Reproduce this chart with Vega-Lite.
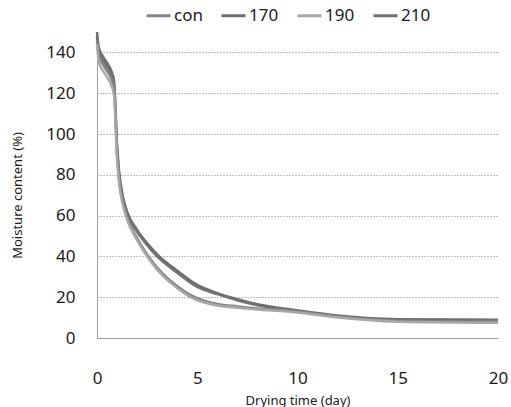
{
  "$schema": "https://vega.github.io/schema/vega-lite/v6.json",
  "autosize": {"type": "none"},
  "padding": {"left": 97, "top": 32, "right": 13, "bottom": 69},
  "width": 401,
  "height": 306,
  "background": "white",
  "config": {"view": {"stroke": null}, "font": "Noto Sans"},
  "data": {"values": [
    {"s":"170","t":0,"v":150},{"s":"170","t":0.1,"v":142},{"s":"170","t":0.3,"v":138},{"s":"170","t":0.55,"v":134},{"s":"170","t":0.75,"v":130},{"s":"170","t":0.85,"v":126},{"s":"170","t":1.0,"v":95},{"s":"170","t":1.1,"v":82},{"s":"170","t":1.3,"v":69},{"s":"170","t":1.5,"v":62},{"s":"170","t":2,"v":53},{"s":"170","t":2.5,"v":46.5},{"s":"170","t":3,"v":41},{"s":"170","t":4,"v":33},{"s":"170","t":5,"v":26},{"s":"170","t":6,"v":22},{"s":"170","t":7,"v":19},{"s":"170","t":8,"v":16.5},{"s":"170","t":10,"v":13.5},{"s":"170","t":12,"v":11},{"s":"170","t":15,"v":9.2},{"s":"170","t":20,"v":9},
    {"s":"210","t":0,"v":148},{"s":"210","t":0.1,"v":140},{"s":"210","t":0.3,"v":136},{"s":"210","t":0.55,"v":132},{"s":"210","t":0.75,"v":128},{"s":"210","t":0.85,"v":124},{"s":"210","t":1.0,"v":93},{"s":"210","t":1.1,"v":80},{"s":"210","t":1.3,"v":68},{"s":"210","t":1.5,"v":61},{"s":"210","t":2,"v":52},{"s":"210","t":2.5,"v":45.5},{"s":"210","t":3,"v":40},{"s":"210","t":4,"v":32},{"s":"210","t":5,"v":25},{"s":"210","t":6,"v":21.5},{"s":"210","t":7,"v":18.5},{"s":"210","t":8,"v":16},{"s":"210","t":10,"v":13},{"s":"210","t":12,"v":10.5},{"s":"210","t":15,"v":8.7},{"s":"210","t":20,"v":8.5},
    {"s":"con","t":0,"v":146},{"s":"con","t":0.1,"v":138},{"s":"con","t":0.3,"v":134},{"s":"con","t":0.55,"v":130},{"s":"con","t":0.75,"v":126},{"s":"con","t":0.85,"v":122},{"s":"con","t":1.0,"v":90},{"s":"con","t":1.1,"v":78},{"s":"con","t":1.3,"v":66},{"s":"con","t":1.5,"v":59},{"s":"con","t":2,"v":49},{"s":"con","t":2.5,"v":41},{"s":"con","t":3,"v":34.5},{"s":"con","t":3.5,"v":29.5},{"s":"con","t":4,"v":25.5},{"s":"con","t":4.5,"v":22},{"s":"con","t":5,"v":19.5},{"s":"con","t":5.5,"v":17.8},{"s":"con","t":6,"v":16.7},{"s":"con","t":7,"v":15.5},{"s":"con","t":8,"v":14.5},{"s":"con","t":10,"v":13},{"s":"con","t":12,"v":10.5},{"s":"con","t":15,"v":8.5},{"s":"con","t":20,"v":8},
    {"s":"190","t":0,"v":144},{"s":"190","t":0.1,"v":135},{"s":"190","t":0.3,"v":131},{"s":"190","t":0.55,"v":127},{"s":"190","t":0.75,"v":123},{"s":"190","t":0.85,"v":119},{"s":"190","t":1.0,"v":88},{"s":"190","t":1.1,"v":76},{"s":"190","t":1.3,"v":65},{"s":"190","t":1.5,"v":58},{"s":"190","t":2,"v":48},{"s":"190","t":2.5,"v":40},{"s":"190","t":3,"v":33.5},{"s":"190","t":3.5,"v":28.5},{"s":"190","t":4,"v":24.5},{"s":"190","t":4.5,"v":21},{"s":"190","t":5,"v":18.5},{"s":"190","t":5.5,"v":17},{"s":"190","t":6,"v":15.9},{"s":"190","t":7,"v":14.8},{"s":"190","t":8,"v":14},{"s":"190","t":10,"v":12.5},{"s":"190","t":12,"v":10},{"s":"190","t":15,"v":8},{"s":"190","t":20,"v":7.5}
  ]},
  "mark": {"type": "line", "interpolate": "monotone", "strokeWidth": 2.5, "clip": false},
  "encoding": {
    "x": {"field": "t", "type": "quantitative",
      "scale": {"domain": [0, 20], "nice": false, "zero": true},
      "axis": {"values": [0, 5, 10, 15, 20], "grid": false, "ticks": false, "domainColor": "#a0a0a0", "domainWidth": 1,
        "labelFontSize": 17, "labelColor": "#1a1a1a", "labelPadding": 32, "labelFlush": false, "labelOverlap": false,
        "title": "Drying time (day)", "titleFontSize": 13, "titleFontWeight": "normal", "titleColor": "#1a1a1a",
        "titleY": 56, "titleBaseline": "top"}},
    "y": {"field": "v", "type": "quantitative",
      "scale": {"domain": [0, 150], "nice": false},
      "axis": {"values": [0, 20, 40, 60, 80, 100, 120, 140], "grid": true, "gridColor": "#808080", "gridDash": [1, 2], "gridWidth": 1,
        "ticks": false, "domainColor": "#a0a0a0", "domainWidth": 1,
        "labelFontSize": 17, "labelColor": "#1a1a1a", "labelPadding": 22,
        "title": "Moisture content (%)", "titleFontSize": 13, "titleFontWeight": "normal", "titleColor": "#1a1a1a",
        "titleX": -86, "titleY": 163, "titleAngle": -90, "titleAlign": "center", "titleBaseline": "top"}},
    "color": {"field": "s", "type": "nominal",
      "scale": {"domain": ["con", "170", "190", "210"], "range": ["#858585", "#6e6e6e", "#a8a8a8", "#727272"]},
      "legend": {"title": null, "orient": "none", "direction": "horizontal", "legendX": 48, "legendY": -30,
        "symbolType": "stroke", "symbolSize": 576, "symbolStrokeWidth": 3, "labelFontSize": 17, "labelColor": "#1a1a1a",
        "labelOffset": 2, "columnPadding": 12}},
    "order": {"field": "t", "type": "quantitative"}
  }
}
